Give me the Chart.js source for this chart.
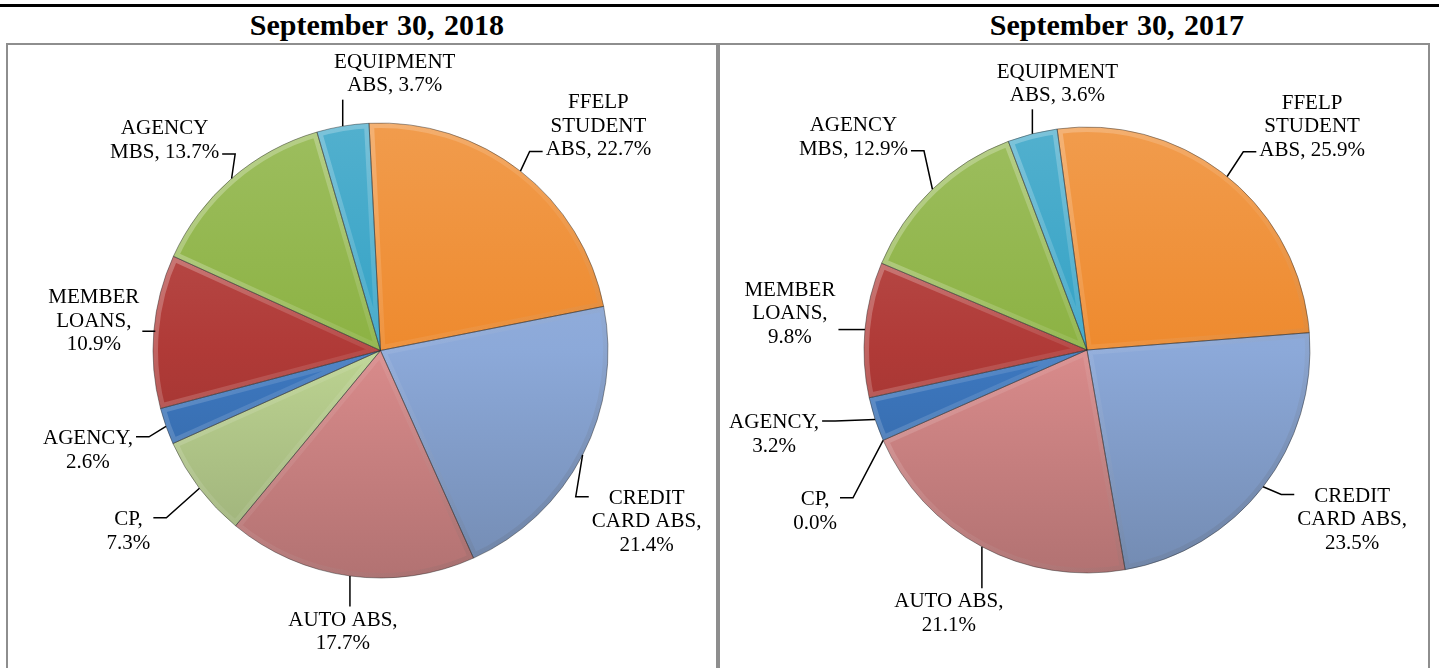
<!DOCTYPE html>
<html>
<head>
<meta charset="utf-8">
<script src="https://cdn.jsdelivr.net/npm/chart.js@4.4.1/dist/chart.umd.min.js"></script>
<style>
  body { margin: 0; background: #fff; width: 1439px; height: 668px; overflow: hidden; position: relative; font-family: "Liberation Serif", "Times New Roman", serif; }
  .topline { position: absolute; left: 0; top: 4px; width: 1439px; height: 3px; background: #000; }
  .title { position: absolute; top: 10px; width: 400px; text-align: center; font-weight: bold; font-size: 30px; line-height: 30px; word-spacing: 2px; }
  .panel { position: absolute; top: 43px; width: 712px; height: 640px; box-sizing: border-box; border: 2px solid #8e8e8e; border-bottom: none; }
  canvas { position: absolute; }
</style>
</head>
<body>
<div class="topline"></div>
<div class="title" style="left:177px">September 30, 2018</div>
<div class="title" style="left:917px">September 30, 2017</div>
<div class="panel" style="left:6px"></div>
<div class="panel" style="left:718px"></div>
<canvas id="chart2018" width="708" height="623" style="left:8px; top:45px"></canvas>
<canvas id="chart2017" width="708" height="623" style="left:720px; top:45px"></canvas>

<script>
// data
const categories = ['FFELP STUDENT ABS', 'CREDIT CARD ABS', 'AUTO ABS', 'CP', 'AGENCY', 'MEMBER LOANS', 'AGENCY MBS', 'EQUIPMENT ABS'];
const values2018 = [22.7, 21.4, 17.7, 7.3, 2.6, 10.9, 13.7, 3.7];
const values2017 = [25.9, 23.5, 21.1, 0.0, 3.2, 9.8, 12.9, 3.6];

// how each label wraps, {v} is the percent
const labelLines = [
  ['FFELP', 'STUDENT', 'ABS, {v}'],
  ['CREDIT', 'CARD ABS,', '{v}'],
  ['AUTO ABS,', '{v}'],
  ['CP,', '{v}'],
  ['AGENCY,', '{v}'],
  ['MEMBER', 'LOANS,', '{v}'],
  ['AGENCY', 'MBS, {v}'],
  ['EQUIPMENT', 'ABS, {v}']
];

const sliceColors = ['#EE8A2E', '#8CA9D9', '#D98B8B', '#BCD391', '#3D78C0', '#B03A37', '#8CB243', '#34A2C5'];

// label placement, offset of label centre from the slice's outer mid point
const offsets2018 = [[78, -45], [64, 67], [-7, 56], [-71, 43], [-78, 24], [-60, -10], [-67, -38], [52, -52]];
const offsets2017 = [[85, -50], [89, 33], [-33, 67], [-68, 71], [-101, 15], [-75, -16], [-79, -52], [25, -50]];

const LINE_H = 23.5;

function shade(hex, amt) {
  let r = parseInt(hex.slice(1, 3), 16), g = parseInt(hex.slice(3, 5), 16), b = parseInt(hex.slice(5, 7), 16);
  const t = amt < 0 ? 0 : 255, p = Math.abs(amt);
  r = Math.round(r + (t - r) * p); g = Math.round(g + (t - g) * p); b = Math.round(b + (t - b) * p);
  return 'rgb(' + r + ',' + g + ',' + b + ')';
}

function sliceFill(c) {
  const base = sliceColors[c.dataIndex || 0];
  const chart = c.chart;
  const a = chart.chartArea;
  if (!a || c.type !== 'data') return base;
  const cy = (a.top + a.bottom) / 2;
  const r = chart.options.radius;
  const g = chart.ctx.createLinearGradient(0, cy - r, 0, cy + r);
  g.addColorStop(0, shade(base, 0.15));
  g.addColorStop(0.5, base);
  g.addColorStop(1, shade(base, -0.18));
  return g;
}

// soft bevel sheen plus a thin dark outline on every slice
const bevel = {
  id: 'bevel',
  afterDatasetsDraw(chart) {
    const ctx = chart.ctx;
    const meta = chart.getDatasetMeta(0);
    meta.data.forEach((arc) => {
      const p = arc.getProps(['x', 'y', 'startAngle', 'endAngle', 'outerRadius'], true);
      if (p.endAngle - p.startAngle <= 0) return;
      const path = () => {
        ctx.beginPath();
        ctx.moveTo(p.x, p.y);
        ctx.arc(p.x, p.y, p.outerRadius, p.startAngle, p.endAngle);
        ctx.closePath();
      };
      ctx.save();
      path();
      ctx.clip();
      const g = ctx.createLinearGradient(p.x - p.outerRadius, p.y - p.outerRadius, p.x + p.outerRadius, p.y + p.outerRadius);
      g.addColorStop(0, 'rgba(255,255,255,0.35)');
      g.addColorStop(0.5, 'rgba(255,255,255,0.08)');
      g.addColorStop(1, 'rgba(0,0,0,0.15)');
      ctx.strokeStyle = g;
      ctx.lineWidth = 10;
      ctx.stroke();
      ctx.restore();
      ctx.save();
      path();
      ctx.strokeStyle = 'rgba(40,40,40,0.45)';
      ctx.lineWidth = 1;
      ctx.stroke();
      ctx.restore();
    });
  }
};

const outerLabels = {
  id: 'outerLabels',
  afterDatasetsDraw(chart, args, opts) {
    const ctx = chart.ctx;
    const meta = chart.getDatasetMeta(0);
    const values = chart.data.datasets[0].data;
    ctx.save();
    ctx.font = '21px "Liberation Serif"';
    ctx.fillStyle = '#000';
    ctx.strokeStyle = '#000';
    ctx.lineWidth = 1.5;
    ctx.textAlign = 'center';
    ctx.textBaseline = 'middle';
    meta.data.forEach((arc, i) => {
      const p = arc.getProps(['x', 'y', 'startAngle', 'endAngle', 'outerRadius'], true);
      const mid = (p.startAngle + p.endAngle) / 2;
      const ex = p.x + Math.cos(mid) * p.outerRadius;
      const ey = p.y + Math.sin(mid) * p.outerRadius;
      const lines = labelLines[i].map(s => s.replace('{v}', values[i].toFixed(1) + '%'));
      const off = opts.offsets[i];
      const cx = ex + off[0], cy = ey + off[1];
      const w = Math.max(...lines.map(s => ctx.measureText(s).width));
      const h = lines.length * LINE_H;
      const left = cx - w / 2, right = cx + w / 2, top = cy - h / 2, bottom = cy + h / 2;
      ctx.beginPath();
      ctx.moveTo(ex, ey);
      if (ex > left + 4 && ex < right - 4) {
        ctx.lineTo(ex, cy > ey ? top - 2 : bottom + 2);
      } else {
        const side = cx > ex ? left : right;
        const dir = cx > ex ? -1 : 1;
        const ky = Math.min(Math.max(ey, top + 10), bottom - 10);
        ctx.lineTo(side + dir * 16, ky);
        ctx.lineTo(side + dir * 3, ky);
      }
      ctx.stroke();
      lines.forEach((s, j) => ctx.fillText(s, cx, cy + (j - (lines.length - 1) / 2) * LINE_H));
    });
    ctx.restore();
  }
};

function makePie(id, values, rotation, radius, padding, offsets) {
  const ctx = document.getElementById(id).getContext('2d');
  return new Chart(ctx, {
    type: 'pie',
    data: {
      labels: categories,
      datasets: [{
        data: values,
        backgroundColor: sliceFill,
        borderWidth: 0
      }]
    },
    options: {
      responsive: false,
      animation: false,
      rotation: rotation,
      radius: radius,
      layout: { padding: padding },
      plugins: {
        legend: { display: false },
        tooltip: { enabled: false },
        outerLabels: { offsets: offsets }
      }
    },
    plugins: [bevel, outerLabels]
  });
}

makePie('chart2018', values2018, -2.9, 227.5, { left: 137, right: 100, top: 70, bottom: 82 }, offsets2018);
makePie('chart2017', values2017, -7.7, 223, { left: 126, right: 100, top: 70, bottom: 83 }, offsets2017);
</script>
</body>
</html>
